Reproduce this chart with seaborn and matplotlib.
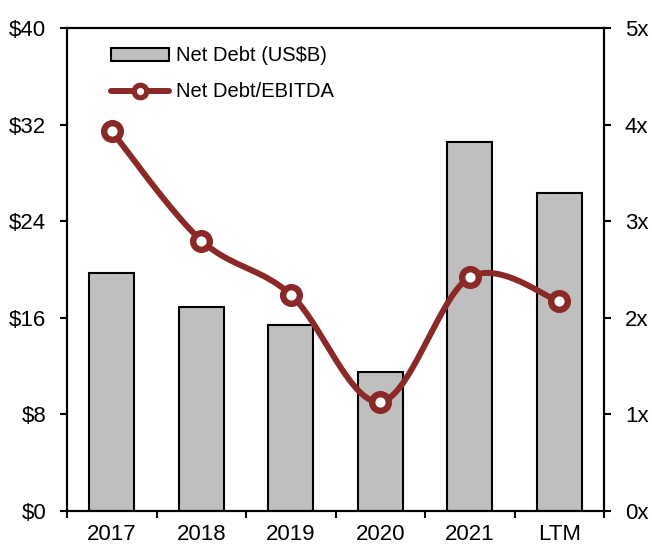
import numpy as np
import pandas as pd
import matplotlib
matplotlib.use("Agg")
import matplotlib.pyplot as plt
import seaborn as sns
from matplotlib.patches import Patch
from matplotlib.lines import Line2D

categories = ["2017", "2018", "2019", "2020", "2021", "LTM"]
net_debt = [19.7, 16.9, 15.4, 11.5, 30.6, 26.3]
leverage = [3.93, 2.80, 2.24, 1.13, 2.42, 2.17]
left_ticks = [0, 8, 16, 24, 32, 40]
left_labels = ["$0", "$8", "$16", "$24", "$32", "$40"]
right_ticks = [0, 1, 2, 3, 4, 5]
right_labels = ["0x", "1x", "2x", "3x", "4x", "5x"]

sns.set_theme(style="white", rc={"text.color": "black", "xtick.color": "black",
                                 "ytick.color": "black", "axes.labelcolor": "black"})
plt.rcParams["font.family"] = ["Liberation Sans", "DejaVu Sans"]

LINE_C = "#8B2828"
BAR_C = "#BFBFBF"
TFS = 16

fig = plt.figure(figsize=(6.52, 5.46), dpi=100)
ax = fig.add_axes([0.1028, 0.0641, 0.8236, 0.8846])

df = pd.DataFrame({"cat": categories, "debt": net_debt})
sns.barplot(data=df, x="cat", y="debt", ax=ax, color=BAR_C, width=0.5,
            edgecolor="black", linewidth=1.5, saturation=1)
ax.set_xlim(-0.5, 5.5)
ax.set_ylim(0, 40)
ax.set_yticks(left_ticks)
ax.set_yticklabels(left_labels, fontsize=TFS)
ax.set_xlabel("")
ax.set_ylabel("")
ax.set_xticks(np.arange(len(categories)))
ax.set_xticklabels(categories, fontsize=TFS)
ax.tick_params(axis="x", length=0, pad=9.5, labelcolor="black")
ax.set_xticks(np.arange(-0.5, len(categories), 1.0), minor=True)
ax.tick_params(axis="x", which="minor", length=5, width=1.5, color="black", direction="out", bottom=True)
ax.tick_params(axis="y", length=5, width=1.5, color="black", labelcolor="black",
               direction="out", left=True, pad=10)
for s in ax.spines.values():
    s.set_color("black")
    s.set_linewidth(1.5)

ax2 = ax.twinx()
ax2.set_ylim(0, 5)
ax2.set_yticks(right_ticks)
ax2.set_yticklabels(right_labels, fontsize=TFS)
ax2.tick_params(axis="y", length=5, width=1.5, color="black", labelcolor="black",
                direction="out", right=True, pad=10)
for s in ax2.spines.values():
    s.set_color("black")
    s.set_linewidth(1.5)

# Catmull-Rom smoothing (Excel-style smoothed line)
xs = np.arange(len(leverage), dtype=float)
ys = np.array(leverage, dtype=float)
sx, sy = 89.6, 96.6
P = np.column_stack([xs * sx, ys * sy])
Pext = np.vstack([P[0], P, P[-1]])
curve = []
for i in range(1, len(Pext) - 2):
    p0, p1, p2, p3 = Pext[i - 1], Pext[i], Pext[i + 1], Pext[i + 2]
    c1 = p1 + (p2 - p0) / 6.0
    c2 = p2 - (p3 - p1) / 6.0
    t = np.linspace(0, 1, 40)[:, None]
    seg = ((1 - t) ** 3) * p1 + 3 * ((1 - t) ** 2) * t * c1 + 3 * (1 - t) * t ** 2 * c2 + t ** 3 * p2
    curve.append(seg)
curve = np.vstack(curve)
cdf = pd.DataFrame({"x": curve[:, 0] / sx, "y": curve[:, 1] / sy})
sns.lineplot(data=cdf, x="x", y="y", ax=ax2, color=LINE_C, linewidth=4.3, sort=False,
             estimator=None)
ax2.plot(xs, ys, linestyle="none", marker="o", markersize=12, markerfacecolor="white",
         markeredgecolor=LINE_C, markeredgewidth=4.6, zorder=5)
ax2.set_xlabel("")
ax2.set_ylabel("")
ax2.set_xlim(-0.5, 5.5)

handles = [
    Patch(facecolor=BAR_C, edgecolor="black", linewidth=1.5),
    Line2D([0], [0], color=LINE_C, linewidth=4.3, marker="o", markersize=9,
           markerfacecolor="white", markeredgecolor=LINE_C, markeredgewidth=3.8),
]
leg = ax2.legend(handles, ["Net Debt (US$B)", "Net Debt/EBITDA"], loc="upper left",
                 bbox_to_anchor=(0.081, 0.962), frameon=False, fontsize=14.5,
                 borderpad=0, borderaxespad=0, labelcolor="black",
                 handlelength=2.9, handleheight=0.6, handletextpad=0.35, labelspacing=0.85)

fig.savefig("out.png", dpi=100)
